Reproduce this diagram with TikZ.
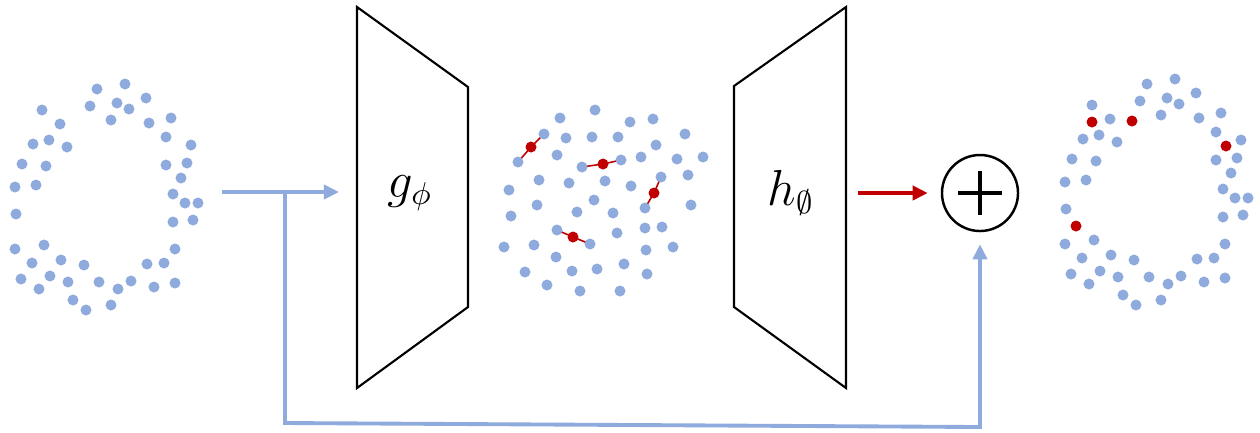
\documentclass[tikz,border=0pt]{standalone}
\usepackage{amsmath}
\usepackage{xcolor}
\definecolor{ptblue}{HTML}{8FAADC}
\definecolor{ptred}{HTML}{C00000}
\definecolor{ink}{HTML}{000000}
\usepackage{tikz}
\usetikzlibrary{arrows.meta,calc}
\tikzset{
  every picture/.style={line width=0.6pt},
  pt/.style={fill=ptblue},
  hot/.style={fill=ptred},
  link/.style={draw=ptred, line width=0.45pt},
  net/.style={draw=ink, line width=0.6pt, line join=miter},
  netlabel/.style={font=\fontsize{13.5}{16}\selectfont, inner sep=0pt},
  skip/.style={draw=ptblue, line width=1.1pt, line join=miter},
  skiparrow/.style={skip, -{Triangle[length=1.5mm,width=1.4mm]}},
  flow/.style={draw=ptred, line width=1.1pt, -{Triangle[length=1.5mm,width=1.4mm]}},
  sumnode/.style={circle, draw=ink, line width=0.7pt, minimum size=0.76cm, inner sep=0pt},
  plus/.style={draw=ink, line width=1.3pt},
}
% input ring (pixel positions)
\newcommand{\ringpts}{97/89, 125/84, 146/98, 90/106, 117/103, 129/109, 42/110,
  111/120, 149/123, 171/118, 60/124, 166/137, 33/144, 49/140, 67/147, 191/145,
  22/164, 46/166, 166/165, 187/163, 181/178, 15/187, 36/185, 173/194, 185/203,
  198/203, 16/214, 173/222, 193/220, 15/249, 44/245, 175/249, 32/263, 61/260,
  84/265, 147/264, 164/263, 21/279, 50/276, 68/282, 99/282, 118/289, 131/281,
  154/287, 175/283, 39/289, 73/300, 86/310, 111/305}
% latent points
\newcommand{\latentpts}{595/110, 560/118, 630/122, 653/119, 544/134, 566/138,
  592/137, 618/137, 685/134, 656/145, 518/162, 557/155, 582/167, 621/160,
  641/157, 677/159, 703/157, 539/180, 569/183, 605/181, 631/186, 661/177,
  688/175, 509/190, 537/205, 594/200, 577/212, 613/213, 645/208, 691/205,
  511/216, 557/230, 590/244, 617/233, 645/228, 662/227, 504/247, 534/245,
  556/257, 646/250, 673/247, 525/272, 572/271, 597/269, 624/264, 647/274,
  547/285, 580/291, 620/291}

\begin{document}
\begin{tikzpicture}[x=0.01cm, y=-0.01cm]
  \useasboundingbox (0,0) rectangle (1260,432);
  \foreach \x/\y in \ringpts \fill[pt] (\x,\y) circle (0.55mm);
  \coordinate (gtl) at (357,7);
  \coordinate (gtr) at (468,87);
  \coordinate (gbr) at (468,307);
  \coordinate (gbl) at (357,388);
  \draw[net] (gtl) -- (gtr) -- (gbr) -- (gbl) -- cycle;
  \node[netlabel] (g) at (410,193) {$g_{\phi}$};
  \draw[link] (544,134) -- (531,147) -- (518,162);
  \draw[link] (582,167) -- (603,164) -- (621,160);
  \draw[link] (661,177) -- (654,193) -- (645,208);
  \draw[link] (557,230) -- (573,237) -- (590,244);
  \foreach \x/\y in \latentpts \fill[pt] (\x,\y) circle (0.55mm);
  \foreach \x/\y in {531/147, 603/164, 654/193, 573/237} \fill[hot] (\x,\y) circle (0.55mm);
  \coordinate (htl) at (734,86);
  \coordinate (htr) at (846,7);
  \coordinate (hbr) at (846,388);
  \coordinate (hbl) at (734,307);
  \draw[net] (htl) -- (htr) -- (hbr) -- (hbl) -- cycle;
  \node[netlabel] (h) at (791,193) {$h_{\emptyset}$};
  \node[sumnode] (sum) at (980,193) {};
  \draw[plus] ($(sum)+(-22,0)$) -- ($(sum)+(22,0)$);
  \draw[plus] ($(sum)+(0,-22)$) -- ($(sum)+(0,22)$);
  \begin{scope}[shift={(1050,-5)}]
    \foreach \x/\y in \ringpts \fill[pt] (\x,\y) circle (0.55mm);
    \foreach \x/\y in {42/127, 82/126, 176/151, 26/231} \fill[hot] (\x,\y) circle (0.55mm);
  \end{scope}
  \coordinate (src) at (222,192);
  \coordinate (gin) at (339,192);
  \coordinate (split) at (285,192);
  \coordinate (low) at (285,423);
  \coordinate (lowend) at (980,427);
  \coordinate (hout) at (858,193);
  \draw[skiparrow] (src) -- (gin);
  \draw[skiparrow] (split) -- (low) -- (lowend) -- ([yshift=-1.2mm]sum.south);
  \draw[flow, shorten >=1.3mm] (hout) -- (sum.west);
\end{tikzpicture}
\end{document}
